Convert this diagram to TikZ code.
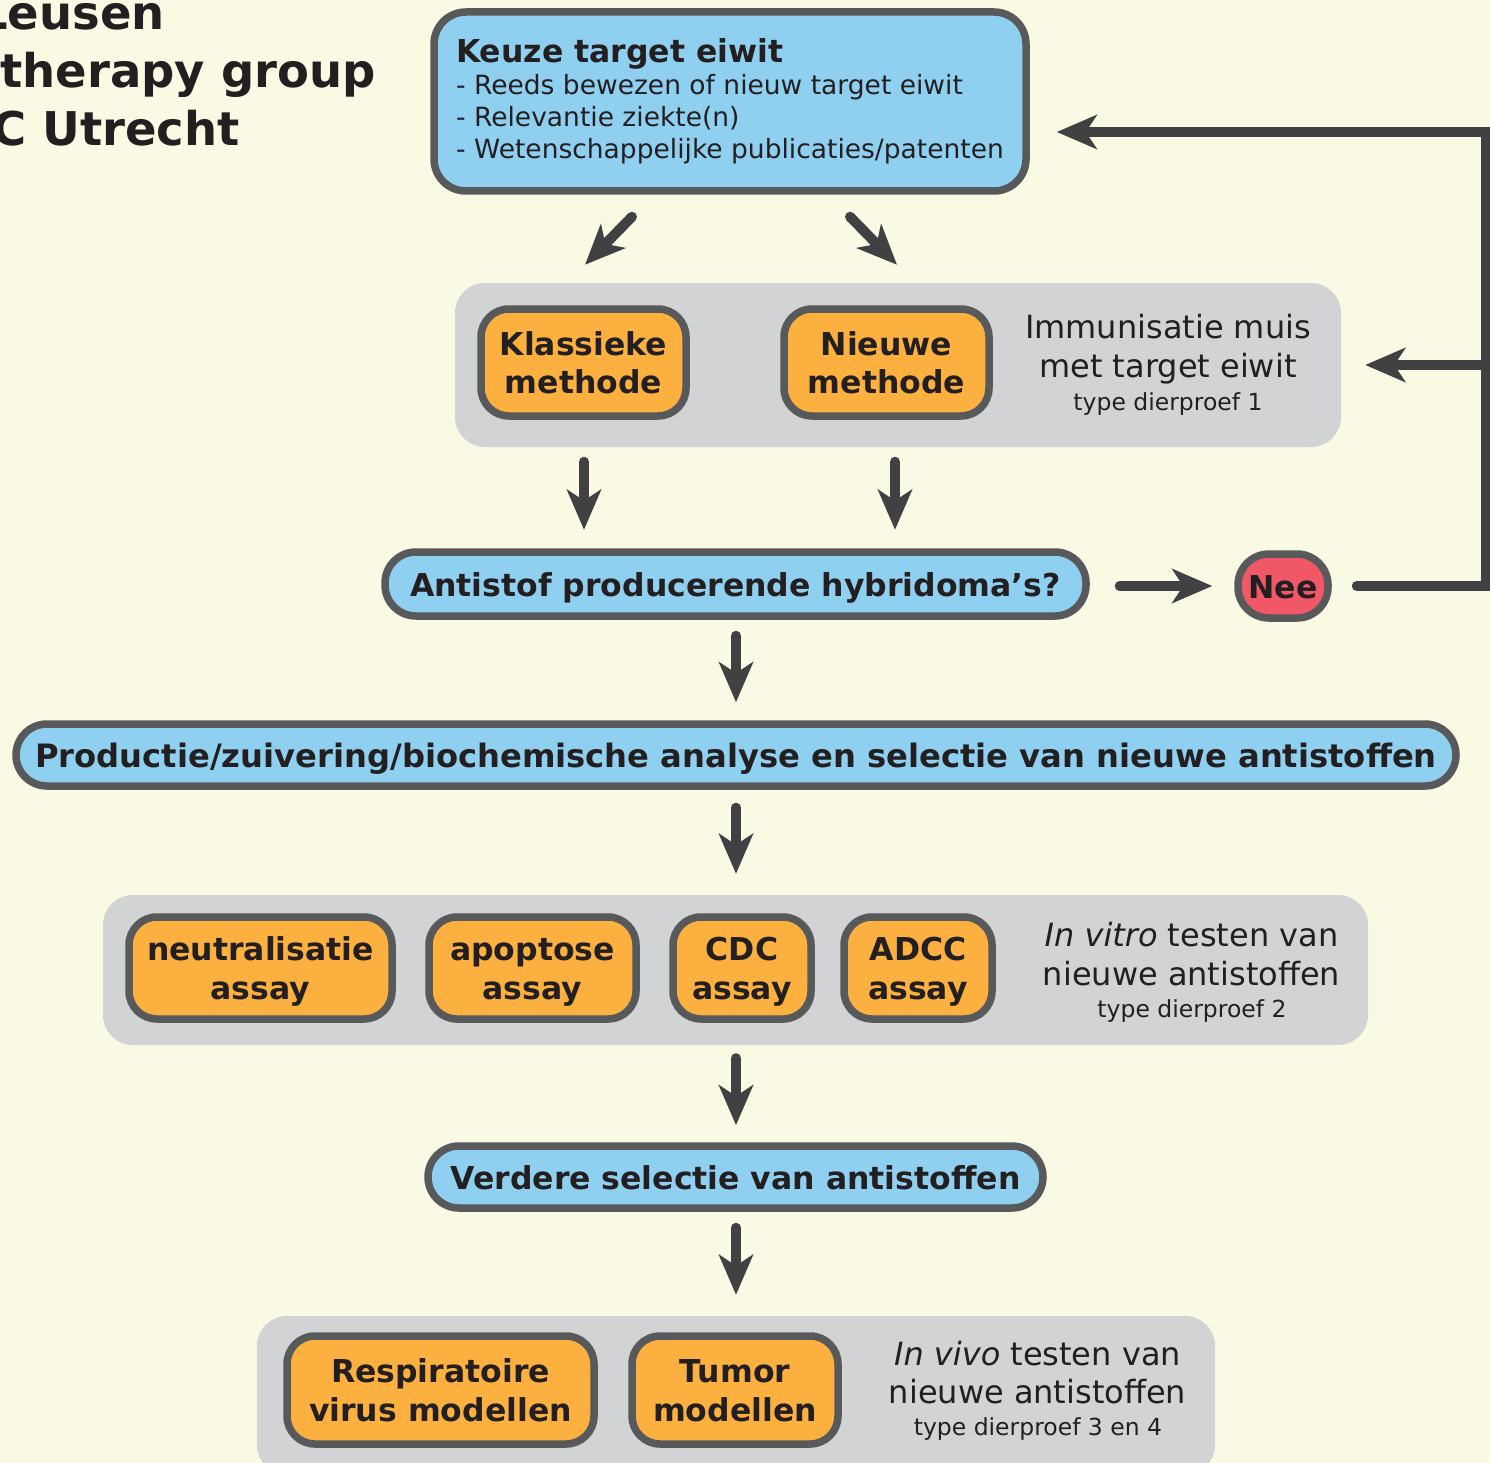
\documentclass[tikz,border=0pt]{standalone}
\usepackage{fontspec}
\setmainfont{DejaVu Sans}
\usetikzlibrary{arrows.meta,calc}
\definecolor{bgc}{RGB}{250,250,228}
\definecolor{blu}{RGB}{143,208,241}
\definecolor{org}{RGB}{251,176,64}
\definecolor{redc}{RGB}{240,88,104}
\definecolor{bdr}{RGB}{88,89,91}
\definecolor{arrc}{RGB}{65,64,66}
\definecolor{pnl}{RGB}{209,211,212}
\definecolor{txt}{RGB}{35,31,32}
\begin{document}
\begin{tikzpicture}[x=1pt,y=-1pt,
 box/.style={draw=bdr,line width=7.5pt,rounded corners=28pt,text=txt,font=\bfseries\fontsize{31.5}{38.7}\selectfont,align=center,inner sep=0pt},
 obox/.style={box,fill=org,text height=62.7pt,text depth=0pt},
 pill/.style={box,fill=blu,rounded corners=31pt,minimum height=64pt,text height=24pt,text depth=0pt},
 panel/.style={fill=pnl,rounded corners=30pt,inner sep=0pt},
 side/.style={text=txt,anchor=base,font=\fontsize{32}{38}\selectfont,inner sep=0pt},
 sidesmall/.style={side,font=\fontsize{23.5}{28}\selectfont},
 arr/.style={draw=arrc,line width=10pt,line cap=round,-{Stealth[length=40pt,width=34pt,inset=11pt]}},
 title/.style={text=txt,anchor=base east,font=\bfseries\fontsize{46.5}{56}\selectfont,inner sep=0pt}]
\useasboundingbox (0,0) rectangle (1490,1463);
\fill[bgc] (0,0) rectangle (1490,1463);
\clip (0,0) rectangle (1490,1463);

\node[title] (t1) at (165,30) {Leusen};
\node[title] (t2) at (376,88) {therapy group};
\node[title] (t3) at (240,146) {C Utrecht};

\node[box,fill=blu,rounded corners=32pt,minimum width=592pt,minimum height=179pt,align=left,font=\fontsize{26.5}{32}\selectfont] (top) at (730,101.5)
 {{\bfseries\fontsize{31.5}{32}\selectfont Keuze target eiwit}\\- Reeds bewezen of nieuw target eiwit\\- Relevantie ziekte(n)\\- Wetenschappelijke publicaties/patenten};

\node[panel,minimum width=886pt,minimum height=164pt] (p1) at (898,365) {};
\node[obox,minimum width=205pt,minimum height=107pt] (kl) at (583.5,362.5) {Klassieke\\methode};
\node[obox,minimum width=205pt,minimum height=107pt] (nw) at (886.5,362.5) {Nieuwe\\methode};
\node[side] (s1a) at (1168,338) {Immunisatie muis};
\node[side] (s1b) at (1168,377) {met target eiwit};
\node[sidesmall] (s1c) at (1168,410) {type dierproef 1};

\node[pill,minimum width=701pt] (anti) at (735.5,584) {Antistof producerende hybridoma’s?};
\node[pill,fill=redc,minimum width=90pt] (nee) at (1283,586) {Nee};

\node[pill,minimum width=1440pt,minimum height=62pt,font=\bfseries\fontsize{32.2}{38}\selectfont] (prod) at (736,755) {Productie/zuivering/biochemische analyse en selectie van nieuwe antistoffen};

\node[panel,minimum width=1265pt,minimum height=150pt] (p2) at (735.5,970) {};
\node[obox,minimum width=263pt,minimum height=102pt] (neu) at (260.5,968) {neutralisatie\\assay};
\node[obox,minimum width=207pt,minimum height=102pt] (apo) at (532.5,968) {apoptose\\assay};
\node[obox,minimum width=138pt,minimum height=102pt] (cdc) at (742,968) {CDC\\assay};
\node[obox,minimum width=148pt,minimum height=102pt] (adcc) at (918,968) {ADCC\\assay};
\node[side] (s2a) at (1191.5,946) {{\itshape In vitro\/} testen van};
\node[side] (s2b) at (1191.5,985) {nieuwe antistoffen};
\node[sidesmall] (s2c) at (1192,1017) {type dierproef 2};

\node[pill,minimum width=615pt,minimum height=62pt] (verd) at (735.5,1177) {Verdere selectie van antistoffen};

\node[panel,minimum width=958pt,minimum height=159pt] (p3) at (736,1395.5) {};
\node[obox,minimum width=307pt,minimum height=108pt] (resp) at (440.5,1390) {Respiratoire\\virus modellen};
\node[obox,minimum width=206pt,minimum height=108pt] (tum) at (735,1390) {Tumor\\modellen};
\node[side] (s3a) at (1037.5,1365) {{\itshape In vivo\/} testen van};
\node[side] (s3b) at (1037.5,1403) {nieuwe antistoffen};
\node[sidesmall] (s3c) at (1038,1435) {type dierproef 3 en 4};

\draw[arr] ($(top.south)+(-98,22)$) -- ($(top.south)+(-145,70)$);
\draw[arr] ($(top.south)+(120,22)$) -- ($(top.south)+(167,70)$);
\draw[arr] ($(kl.south)+(0.5,42)$) -- ($(kl.south)+(0.5,110)$);
\draw[arr] ($(nw.south)+(8.5,42)$) -- ($(nw.south)+(8.5,110)$);
\draw[arr] ($(anti.east)+(30,2)$) -- ($(nee.west)+(-22,0)$);
\coordinate (fbc) at (1486,586);
\coordinate (fbt) at (1486,132);
\coordinate (fbm) at (1486,365);
\draw[arr,line join=miter] ($(nee.east)+(25,0)$) -- (fbc) -- (fbt) -- ($(top.east)+(27,30.5)$);
\draw[arr] (fbm) -- ($(p1.east)+(24,0)$);
\draw[arr] ($(anti.south)+(0.5,16)$) -- ($(prod.north)+(0,-18)$);
\draw[arr] ($(prod.south)+(0,18)$) -- ($(p2.north)+(0.5,-21)$);
\draw[arr] ($(p2.south)+(0.5,13)$) -- ($(verd.north)+(0.5,-17)$);
\draw[arr] ($(verd.south)+(0.5,16)$) -- ($(p3.north)+(0,-21)$);
\end{tikzpicture}
\end{document}
